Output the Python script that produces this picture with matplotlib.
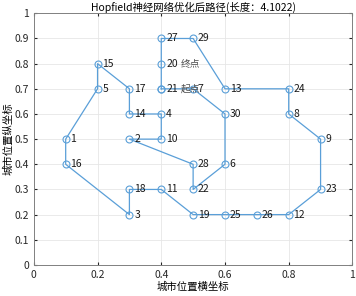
import matplotlib
matplotlib.use('Agg')
import matplotlib.pyplot as plt
import numpy as np

plt.rcParams['font.family'] = ['Noto Sans CJK SC', 'DejaVu Sans']

# city coordinates (city 1..30)
city_x = [0.1, 0.3, 0.3, 0.4, 0.2, 0.6, 0.5, 0.8, 0.9, 0.4,
          0.4, 0.8, 0.6, 0.3, 0.2, 0.1, 0.3, 0.3, 0.5, 0.4,
          0.4, 0.5, 0.9, 0.8, 0.6, 0.7, 0.4, 0.5, 0.5, 0.6]
city_y = [0.5, 0.5, 0.2, 0.6, 0.7, 0.4, 0.7, 0.6, 0.5, 0.5,
          0.3, 0.2, 0.7, 0.6, 0.8, 0.4, 0.7, 0.3, 0.2, 0.8,
          0.7, 0.3, 0.3, 0.7, 0.2, 0.2, 0.9, 0.4, 0.9, 0.6]
route = [21, 7, 30, 6, 22, 28, 2, 10, 4, 14, 17, 15, 5, 1, 16, 3, 18, 11,
         19, 25, 26, 12, 23, 9, 8, 24, 13, 29, 27, 20, 21]
tour_len = 4.1022

blue = '#5a9fd8'
fig = plt.figure(figsize=(3.56, 2.96), dpi=100)
ax = fig.add_axes([0.095, 0.105, 0.895, 0.85])

rx = [city_x[c - 1] for c in route]
ry = [city_y[c - 1] for c in route]
ax.plot(rx, ry, '-o', color=blue, lw=0.9, markersize=5,
        markerfacecolor='none', markeredgewidth=0.8)

for i in range(len(city_x)):
    ax.text(city_x[i] + 0.015, city_y[i], str(i + 1), fontsize=7.5,
            va='center', ha='left', color='#1a1a1a')

ax.text(city_x[route[0] - 1] + 0.06, city_y[route[0] - 1], '起点',
        fontsize=7, va='center', color='#4d4d4d')
ax.text(city_x[route[-2] - 1] + 0.06, city_y[route[-2] - 1], '终点',
        fontsize=7, va='center', color='#4d4d4d')

ax.set_xlim(0, 1)
ax.set_ylim(0, 1)
ax.set_xticks(np.arange(0, 1.01, 0.2))
ax.set_xticklabels(['0', '0.2', '0.4', '0.6', '0.8', '1'])
ax.set_yticks(np.arange(0, 1.01, 0.1))
ax.set_yticklabels(['0', '0.1', '0.2', '0.3', '0.4', '0.5', '0.6', '0.7', '0.8', '0.9', '1'])
ax.grid(True, color='#e6e6e6', lw=0.6)
ax.set_axisbelow(True)
ax.tick_params(direction='in', labelsize=7.5, length=2, colors='#262626',
               top=True, right=True)
for s in ax.spines.values():
    s.set_color('#808080')
    s.set_linewidth(0.7)

ax.set_title('Hopfield神经网络优化后路径(长度：%.4f)' % tour_len, fontsize=7.5, pad=2)
ax.set_xlabel('城市位置横坐标', fontsize=7.5, labelpad=1)
ax.set_ylabel('城市位置纵坐标', fontsize=7.5, labelpad=1)

fig.savefig('out.png', dpi=100)
